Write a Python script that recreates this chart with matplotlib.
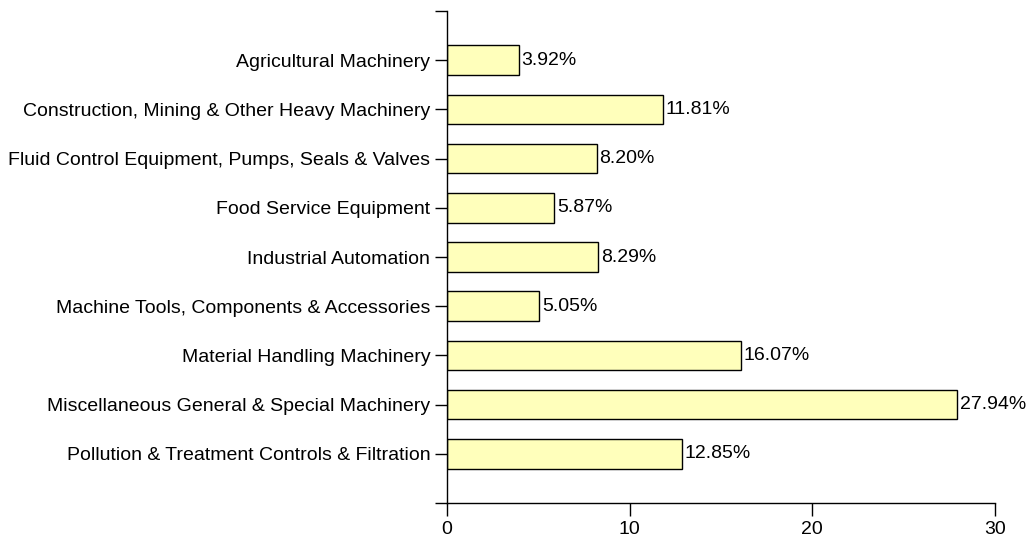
import matplotlib
matplotlib.use('Agg')
from matplotlib import pyplot as plt

categories = [
  'Agricultural Machinery',
  'Construction, Mining & Other Heavy Machinery',
  'Fluid Control Equipment, Pumps, Seals & Valves',
  'Food Service Equipment',
  'Industrial Automation',
  'Machine Tools, Components & Accessories',
  'Material Handling Machinery',
  'Miscellaneous General & Special Machinery',
  'Pollution & Treatment Controls & Filtration',
]
shares = [3.92, 11.81, 8.20, 5.87, 8.29, 5.05, 16.07, 27.94, 12.85]
x_ticks = [0, 10, 20, 30]

plt.rcParams['font.family'] = ['Liberation Sans', 'DejaVu Sans']
plt.rcParams['font.size'] = 14

fig = plt.figure(figsize = (10.34, 5.41), dpi = 100)
ax = fig.add_axes([0.4323, 0.0702, 0.53, 0.9095])

y_pos = list(range(len(categories)))
ax.barh(y_pos, shares, height = 0.6, color = '#ffffbb', edgecolor = '#000000', linewidth = 1)

for y, v in zip(y_pos, shares):
  ax.annotate('%.2f%%' % v, (v, y), xytext = (2, 0), textcoords = 'offset points',
              va = 'center', ha = 'left')

ax.set_xlim(0, 30)
ax.set_ylim(len(categories), -1)
ax.set_xticks(x_ticks, labels = [str(t) for t in x_ticks])
ax.set_yticks([-1] + y_pos + [len(categories)],
              labels = [''] + categories + [''])

for side in ('top', 'right'):
  ax.spines[side].set_visible(False)
for side in ('left', 'bottom'):
  ax.spines[side].set_linewidth(1)
ax.tick_params(axis = 'both', length = 9, width = 1, color = 'black')
ax.tick_params(axis = 'y', pad = 3)
ax.tick_params(axis = 'x', pad = 4)

fig.savefig('out.png', dpi = 100)
